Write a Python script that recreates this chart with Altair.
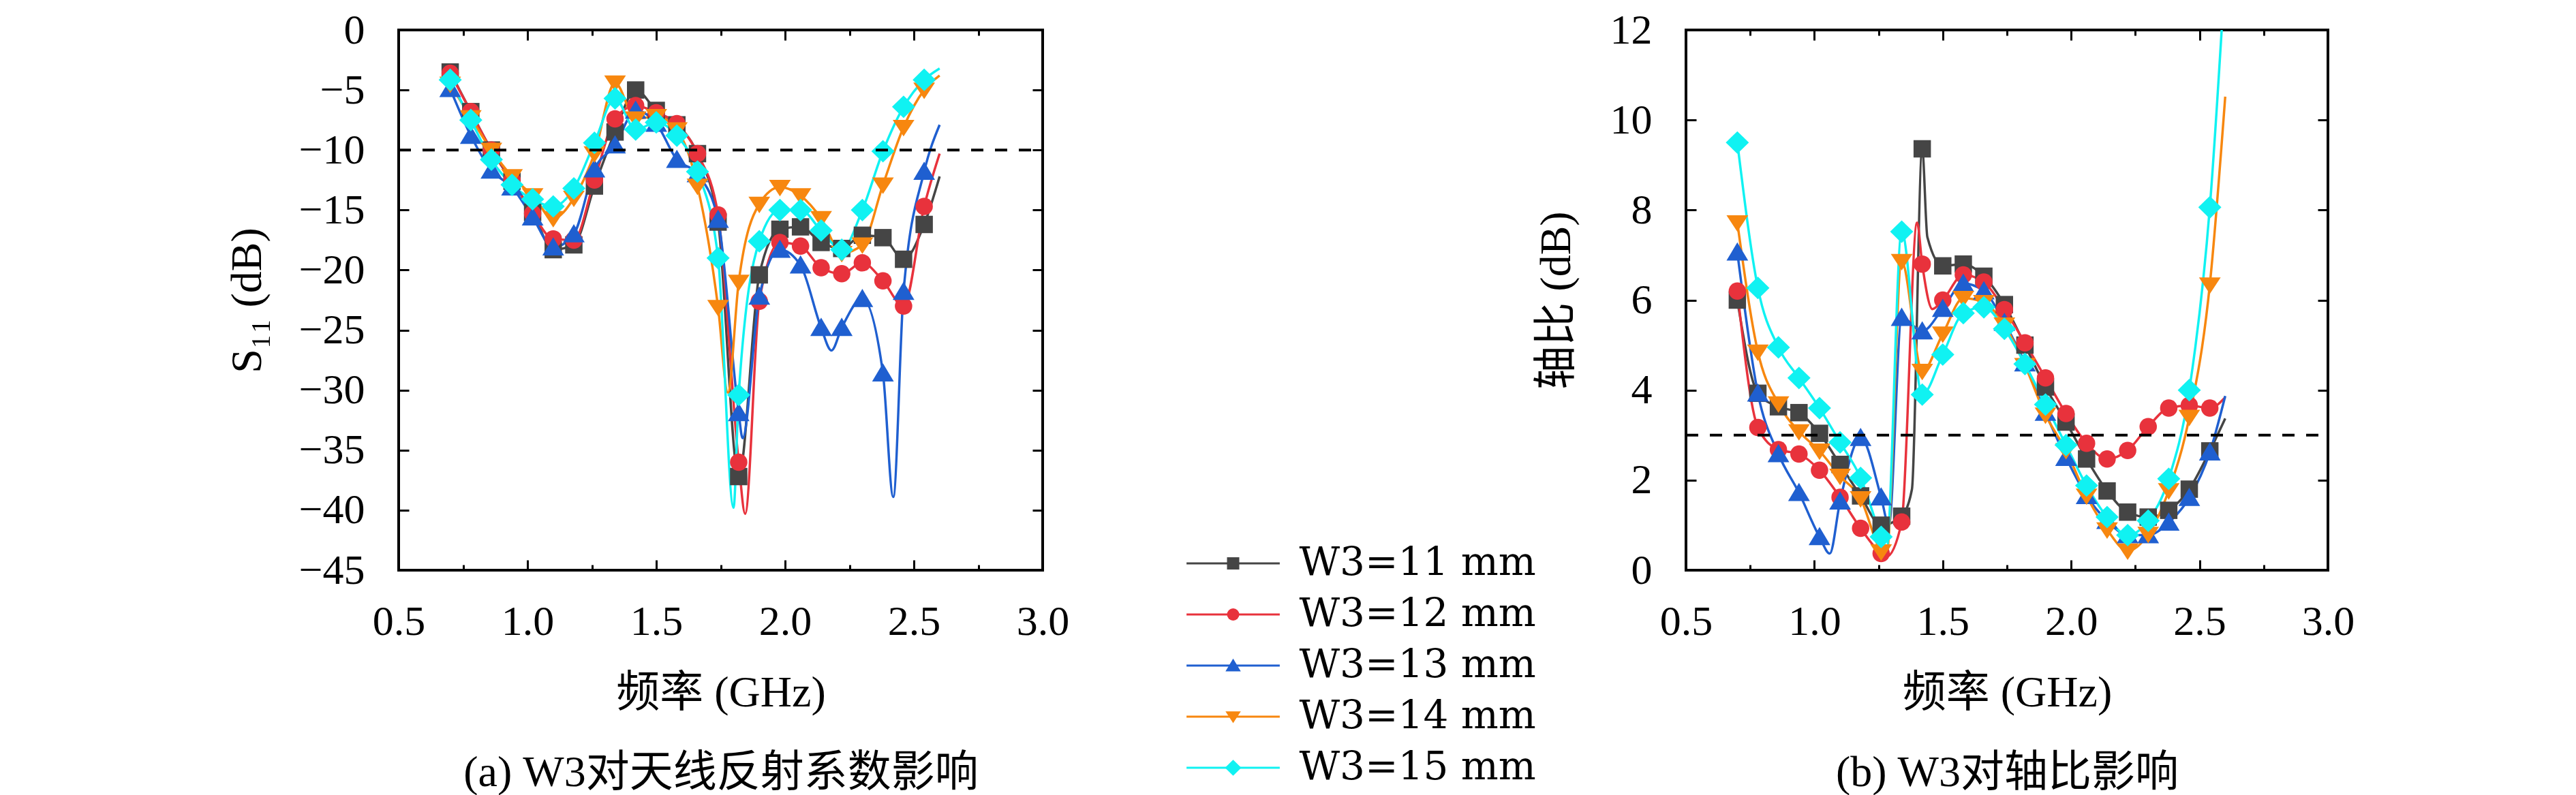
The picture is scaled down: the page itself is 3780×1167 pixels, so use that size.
import altair as alt
import pandas as pd

# ---------------- data ----------------
SERIES = ["W3=11 mm", "W3=12 mm", "W3=13 mm", "W3=14 mm", "W3=15 mm"]
COLORS = ["#454545", "#e8323c", "#1f5fd0", "#f7870f", "#10f2f2"]
SHAPES = ["square", "circle",
          "M0,-1.15L1.25,0.95L-1.25,0.95Z",
          "M0,1.05L1.25,-0.85L-1.25,-0.85Z",
          "M0,-1.3L1.33,0L0,1.3L-1.33,0Z"]

FREQ = [0.70, 0.78, 0.86, 0.94, 1.02, 1.10, 1.18, 1.26, 1.34, 1.42, 1.50, 1.58,
        1.66, 1.74, 1.82, 1.90, 1.98, 2.06, 2.14, 2.22, 2.30, 2.38, 2.46, 2.54]

# S11 (dB) at marker frequencies
S11_W11 = [-3.5, -6.8, -10.0, -12.6, -15.2, -18.3, -17.9, -13.0, -8.5, -5.0, -6.7, -7.9,
           -10.3, -16.0, -37.2, -20.4, -16.6, -16.4, -17.7, -18.2, -17.1, -17.3, -19.1, -16.2]
S11_W12 = [-3.6, -6.8, -10.0, -12.5, -15.3, -17.4, -17.5, -12.5, -7.4, -6.3, -6.9, -7.8,
           -10.3, -15.4, -36.0, -22.6, -17.7, -18.0, -19.8, -20.3, -19.4, -20.9, -23.0, -14.7]
S11_W13 = [-4.9, -8.8, -11.7, -13.1, -15.6, -18.1, -17.0, -11.6, -9.6, -6.7, -7.8, -10.8,
           -12.0, -15.8, -31.9, -22.2, -18.3, -19.6, -24.8, -24.8, -22.4, -28.6, -21.8, -11.8]
S11_W14 = [-4.5, -7.3, -10.0, -12.2, -13.8, -15.7, -14.0, -10.3, -4.4, -7.4, -7.2, -8.3,
           -13.0, -23.1, -21.0, -14.5, -13.1, -13.8, -15.7, -18.6, -17.9, -12.9, -8.1, -5.0]
S11_W15 = [-4.15, -7.5, -10.8, -12.9, -14.1, -14.7, -13.2, -9.4, -5.7, -8.3, -7.7, -8.8,
           -11.8, -19.0, -30.4, -17.6, -15.0, -15.0, -16.7, -18.3, -15.0, -10.1, -6.4, -4.15]

# extra curve points between markers (S11)
S11_XF = [[2.60], [1.845, 2.60], [1.835, 2.18, 2.42, 2.60], [1.778, 2.60], [1.80, 2.60]]
S11_XV = [[-12.2], [-40.3, -10.3], [-34.0, -26.7, -38.9, -7.9], [-30.2, -3.8], [-39.8, -3.2]]

# Axial ratio (dB) at marker frequencies
AR_W11 = [6.0, 3.93, 3.63, 3.50, 3.04, 2.35, 1.65, 1.0, 1.2, 9.36, 6.76, 6.8,
          6.53, 5.9, 5.0, 4.07, 3.29, 2.47, 1.76, 1.29, 1.18, 1.33, 1.80, 2.65]
AR_W12 = [6.20, 3.17, 2.68, 2.58, 2.22, 1.62, 0.93, 0.37, 1.07, 6.80, 6.0, 6.56,
          6.40, 5.79, 5.05, 4.27, 3.48, 2.82, 2.47, 2.66, 3.19, 3.60, 3.66, 3.60]
AR_W13 = [7.06, 3.93, 2.58, 1.72, 0.74, 1.53, 2.94, 1.62, 5.61, 5.31, 5.81, 6.37,
          6.2, 5.5, 4.6, 3.5, 2.5, 1.65, 1.1, 0.78, 0.78, 1.06, 1.61, 2.62]
AR_W14 = [7.72, 4.85, 3.70, 3.08, 2.65, 2.09, 1.59, 0.41, 6.86, 4.42, 5.25, 6.04,
          5.95, 5.45, 4.55, 3.45, 2.66, 1.65, 0.90, 0.43, 0.80, 1.77, 3.40, 6.34]
AR_W15 = [9.50, 6.27, 4.95, 4.27, 3.60, 2.84, 2.05, 0.74, 7.52, 3.90, 4.79, 5.71,
          5.84, 5.36, 4.58, 3.68, 2.78, 1.88, 1.18, 0.78, 1.10, 2.03, 4.00, 8.06]

AR_XF = [[1.38, 1.44, 2.60], [1.28, 1.40, 1.46, 2.60], [1.06, 1.29, 2.60], [1.28, 2.60], [1.28, 2.60]]
AR_XV = [[1.8, 7.4, 3.37], [0.30, 7.72, 5.8, 3.84], [0.37, 1.0, 3.87], [0.3, 10.52], [0.45, 13.3]]

X_DOMAIN = [0.5, 3.0]
X_LABELS = [0.5, 1.0, 1.5, 2.0, 2.5, 3.0]
X_TICKS = [0.5, 0.75, 1.0, 1.25, 1.5, 1.75, 2.0, 2.25, 2.5, 2.75, 3.0]
S11_DOMAIN = [-45, 0]
S11_TICKS = [0, -5, -10, -15, -20, -25, -30, -35, -40, -45]
AR_DOMAIN = [0, 12]
AR_TICKS = [0, 2, 4, 6, 8, 10, 12]
S11_THR = -10
AR_THR = 3

# ---------------- build tables ----------------
def tables(series_vals, xf, xv):
    pts, lines = [], []
    for name, vals, fx, fv in zip(SERIES, series_vals, xf, xv):
        for f, v in zip(FREQ, vals):
            pts.append({"series": name, "freq": f, "val": v})
            lines.append({"series": name, "freq": f, "val": v})
        for f, v in zip(fx, fv):
            lines.append({"series": name, "freq": f, "val": v})
    return pd.DataFrame(pts), pd.DataFrame(lines)

s11_pts, s11_lines = tables([S11_W11, S11_W12, S11_W13, S11_W14, S11_W15], S11_XF, S11_XV)
ar_pts, ar_lines = tables([AR_W11, AR_W12, AR_W13, AR_W14, AR_W15], AR_XF, AR_XV)

# ---------------- styling ----------------
FONT = "Liberation Serif, Noto Sans CJK SC"
LEG_FONT = "DejaVu Serif"
H = 793
W1, W2 = 945, 942
TICK_TEST = "abs(datum.value*2 - round(datum.value*2)) < 0.01"
XTICK_SIZE = {"condition": {"test": TICK_TEST, "value": 15}, "value": 8}

LEG_X, LEG_Y = 1195.5, 754
LEG_COMMON = dict(orient="none", legendX=LEG_X, legendY=LEG_Y, title=None,
                  symbolSize=324, symbolStrokeWidth=3,
                  labelFont=LEG_FONT, labelFontSize=58, labelColor="black",
                  labelLimit=2000, labelOffset=68, rowPadding=17, padding=0)
line_legend = alt.Legend(symbolType="M-7.6,0H7.6", **LEG_COMMON)
point_legend = alt.Legend(labelOpacity=0, **LEG_COMMON)


def panel(pts, lines, ydom, yticks, thr, ytitle, xtitle, ytitle_x, width, with_legend):
    xs = alt.Scale(domain=X_DOMAIN, nice=False, zero=False)
    ys = alt.Scale(domain=ydom, nice=False, zero=False)
    cs = alt.Scale(domain=SERIES, range=COLORS)
    ss = alt.Scale(domain=SERIES, range=SHAPES)

    x_lab = alt.Axis(orient="bottom", values=X_LABELS, format=".1f", ticks=False, tickSize=0,
                     domain=False, grid=False, labelPadding=45, labelFlush=False,
                     labelOverlap=False, title=xtitle, titlePadding=42, titleLineHeight=117)
    y_lab = alt.Axis(orient="left", values=yticks, ticks=False, tickSize=0, domain=False,
                     grid=False, labelPadding=50, labelFlush=False, labelOverlap=False,
                     title=ytitle, titleX=ytitle_x, titleBaseline="middle")
    x_in_bottom = alt.Axis(orient="top", offset=-H, values=X_TICKS, labels=False, domain=False,
                           grid=False, tickSize=XTICK_SIZE, title=None)
    x_in_top = alt.Axis(orient="bottom", offset=-H, values=X_TICKS, labels=False, domain=False,
                        grid=False, tickSize=XTICK_SIZE, title=None)
    y_in_left = alt.Axis(orient="right", offset=-width, values=yticks, labels=False,
                         domain=False, grid=False, tickSize=15, title=None)
    y_in_right = alt.Axis(orient="left", offset=-width, values=yticks, labels=False,
                          domain=False, grid=False, tickSize=15, title=None)

    line_layer = alt.Chart(lines).mark_line(interpolate="monotone", strokeWidth=3.5, clip=True).encode(
        x=alt.X("freq:Q", scale=xs, axis=x_lab),
        y=alt.Y("val:Q", scale=ys, axis=y_lab),
        color=alt.Color("series:N", scale=cs, legend=line_legend if with_legend else None),
    )
    pt_leg = point_legend if with_legend else None
    point_layer = alt.Chart(pts).mark_point(filled=True, size=650, opacity=1, clip=True).encode(
        x=alt.X("freq:Q", scale=xs, axis=x_in_bottom),
        y=alt.Y("val:Q", scale=ys, axis=y_in_left),
        color=alt.Color("series:N", scale=cs, legend=pt_leg),
        shape=alt.Shape("series:N", scale=ss, legend=pt_leg),
    )
    thr_df = pd.DataFrame({"x0": [X_DOMAIN[0]], "x1": [X_DOMAIN[1]], "thr": [thr]})
    rule_layer = alt.Chart(thr_df).mark_rule(color="black", strokeWidth=4, strokeDash=[18, 17]).encode(
        x=alt.X("x0:Q", scale=xs, axis=x_in_top),
        x2="x1:Q",
        y=alt.Y("thr:Q", scale=ys, axis=y_in_right),
    )
    return alt.layer(line_layer, point_layer, rule_layer).resolve_scale(
        color="independent", shape="independent"
    ).resolve_axis(x="independent", y="independent").properties(width=width, height=H)


left = panel(s11_pts, s11_lines, S11_DOMAIN, S11_TICKS, S11_THR, "S₁₁ (dB)",
             ["频率 (GHz)", "(a) W3对天线反射系数影响"], -222, W1, True)
right = panel(ar_pts, ar_lines, AR_DOMAIN, AR_TICKS, AR_THR, "轴比 (dB)",
              ["频率 (GHz)", "(b) W3对轴比影响"], -190, W2, False)

chart = alt.hconcat(left, right, spacing=944, bounds="flush").resolve_scale(
    color="independent", shape="independent"
).properties(
    padding={"left": 321, "top": 3, "right": 10, "bottom": 0},
    background="white",
).configure_view(
    stroke="black", strokeWidth=4
).configure_axis(
    labelFont=FONT, labelFontSize=62, labelColor="black",
    titleFont=FONT, titleFontSize=64, titleFontWeight="normal", titleColor="black",
    tickColor="black", tickWidth=3,
)

chart.save("out.html", embed_options={"renderer": "svg", "actions": False})
